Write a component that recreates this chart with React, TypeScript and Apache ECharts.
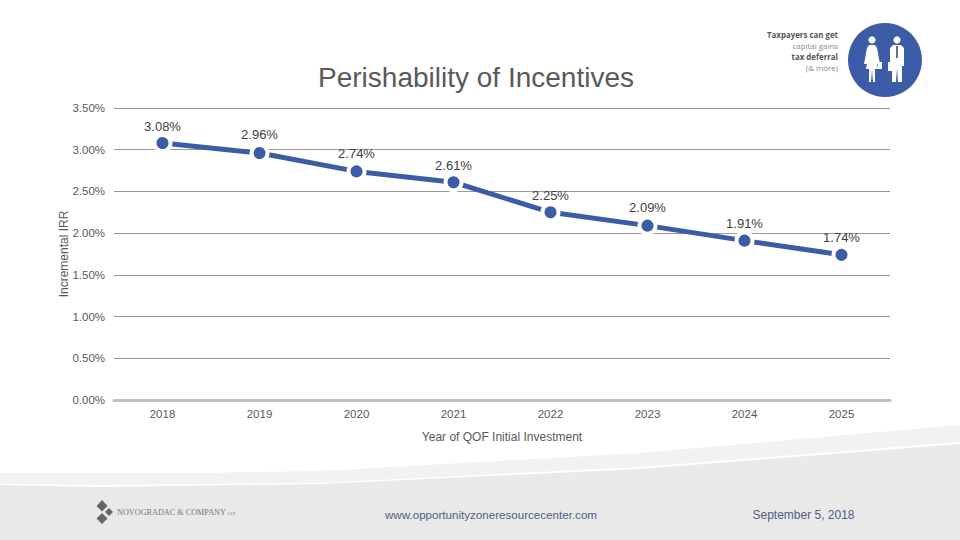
import React, { useEffect, useRef } from "react";
import * as echarts from "echarts";

const years = ["2018", "2019", "2020", "2021", "2022", "2023", "2024", "2025"];
const irr = [3.08, 2.96, 2.74, 2.61, 2.25, 2.09, 1.91, 1.74];
const logoLines = ["Taxpayers can get", "capital gains", "tax deferral", "(& more)"];
const logoWeights = ["bold", "normal", "bold", "normal"];
const labelDistances = [0, 2, 1, 0, 0, 2, 1, 1];

const FONT = '"Liberation Sans", Arial, sans-serif';
const BLUE = "#3d5ca8";

export default function App() {
  const ref = useRef<HTMLDivElement>(null);
  useEffect(() => {
    const chart = echarts.init(ref.current!, undefined, { renderer: "svg" });
    const white = { fill: "#fff" };
    chart.setOption({
      animation: false,
      backgroundColor: "#fff",
      title: {
        text: "Perishability of Incentives",
        left: 476,
        top: 57,
        textAlign: "center",
        textStyle: { fontFamily: FONT, fontSize: 28, fontWeight: "normal", color: "#595959", lineHeight: 30 },
      },
      grid: { left: 114, right: 70, top: 108, bottom: 140 },
      xAxis: {
        type: "category",
        data: years,
        name: "Year of QOF Initial Investment",
        nameLocation: "middle",
        nameGap: 31,
        nameTextStyle: { fontFamily: FONT, fontSize: 12, color: "#595959" },
        axisLine: { lineStyle: { color: "#bfbfbf", width: 3 } },
        axisTick: { show: false },
        axisLabel: { fontFamily: FONT, fontSize: 11.5, color: "#595959", margin: 8 },
      },
      yAxis: {
        type: "value",
        min: 0,
        max: 3.5,
        interval: 0.5,
        name: "Incremental IRR",
        nameLocation: "middle",
        nameGap: 44,
        nameMoveOverlap: false,
        nameTextStyle: { fontFamily: FONT, fontSize: 12, color: "#595959" },
        axisLine: { show: false },
        axisTick: { show: false },
        axisLabel: {
          fontFamily: FONT,
          fontSize: 11.5,
          color: "#595959",
          margin: 9,
          formatter: (v: number) => v.toFixed(2) + "%",
        },
        splitLine: { lineStyle: { color: "#999999", width: 1 } },
      },
      series: [
        {
          type: "line",
          z: 5,
          data: irr.map((v, i) => ({
            value: v,
            label: { distance: labelDistances[i] },
          })),
          symbol: "circle",
          symbolSize: 16,
          lineStyle: { color: BLUE, width: 5 },
          itemStyle: { color: BLUE, borderColor: "#fff", borderWidth: 4 },
          label: {
            show: true,
            position: "top",
            fontFamily: FONT,
            fontSize: 13,
            color: "#404040",
            formatter: (p: any) => p.value.toFixed(2) + "%",
          },
        },
      ],
      graphic: [
        {
          type: "polygon", z: -1, silent: true,
          shape: { points: [[0, 473], [200, 473], [320, 471], [640, 453], [960, 425], [960, 442], [640, 467], [320, 483], [100, 485], [0, 484]] },
          style: { fill: "#f2f2f2" },
        },
        {
          type: "polygon", z: -1, silent: true,
          shape: { points: [[0, 485], [100, 487], [320, 484], [640, 469], [960, 444], [960, 540], [0, 540]] },
          style: { fill: "#e9e9e9" },
        },
        { type: "circle", shape: { cx: 885, cy: 60, r: 37 }, style: { fill: BLUE } },
        { type: "circle", shape: { cx: 872, cy: 40, r: 3.6 }, style: white },
        {
          type: "polygon",
          shape: { points: [[869, 45], [875, 45], [877, 48], [880, 64], [877, 64], [876, 58], [878, 69], [875, 69], [875, 82], [873, 82], [872, 70], [871, 82], [869, 82], [869, 69], [866, 69], [868, 58], [867, 64], [864, 64], [867, 48]] },
          style: white,
        },
        { type: "rect", shape: { x: 878, y: 62, width: 4, height: 7 }, style: white },
        { type: "circle", shape: { cx: 897, cy: 40, r: 3.6 }, style: white },
        {
          type: "polygon",
          shape: { points: [[893, 45], [901, 45], [904, 48], [904, 66], [902, 66], [902, 82], [898, 82], [897, 68], [896, 82], [892, 82], [892, 66], [890, 66], [890, 48]] },
          style: white,
        },
        { type: "rect", shape: { x: 888, y: 62, width: 5, height: 9 }, style: white },
        { type: "rect", shape: { x: 896.3, y: 46, width: 1.4, height: 12 }, style: { fill: "#26334f" } },
        ...logoLines.map((t, i) => ({
          type: "text",
          style: {
            text: t,
            x: 838,
            y: 35 + i * 11,
            align: "right",
            verticalAlign: "middle",
            fontFamily: '"Open Sans", sans-serif',
            fontSize: 7.9,
            fontWeight: logoWeights[i],
            fill: logoWeights[i] === "bold" ? "#555" : "#8a8a8a",
          },
        })),
        {
          type: "polygon",
          shape: { points: [[102, 500], [107.5, 506], [102, 511.5], [96.5, 506]] },
          style: { fill: "#666" },
        },
        {
          type: "polygon",
          shape: { points: [[109, 508], [113, 512], [109, 516], [105, 512]] },
          style: { fill: "#666" },
        },
        {
          type: "polygon",
          shape: { points: [[102, 513], [107.5, 518.5], [102, 524], [96.5, 518.5]] },
          style: { fill: "#666" },
        },
        {
          type: "text",
          style: { text: "NOVOGRADAC & COMPANY", x: 117, y: 512, verticalAlign: "middle", fontFamily: '"Liberation Serif", serif', fontSize: 8.2, fill: "#777" },
        },
        {
          type: "text",
          style: { text: "LLP", x: 228, y: 513, verticalAlign: "middle", fontFamily: '"Liberation Serif", serif', fontSize: 4, fill: "#777" },
        },
        {
          type: "text",
          style: { text: "www.opportunityzoneresourcecenter.com", x: 491, y: 514, align: "center", verticalAlign: "middle", fontFamily: FONT, fontSize: 11.6, fill: "#4f5f85" },
        },
        {
          type: "text",
          style: { text: "September 5, 2018", x: 803.5, y: 515, align: "center", verticalAlign: "middle", fontFamily: FONT, fontSize: 12, fill: "#4f5f85" },
        },
      ],
    });
    chart.setOption({ title: { left: 471 } });
    return () => chart.dispose();
  }, []);
  return <div ref={ref} style={{ position: "fixed", left: 0, top: 0, width: 960, height: 540 }} />;
}
